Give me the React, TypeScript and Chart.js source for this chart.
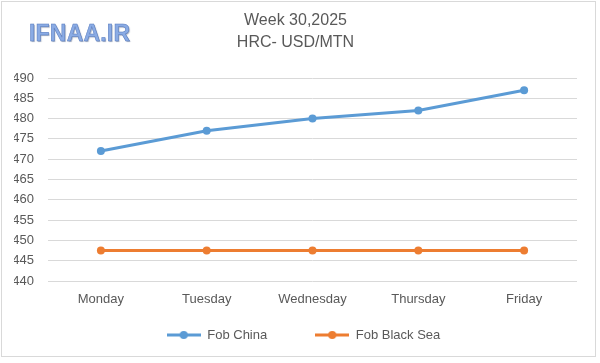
import React, { useEffect, useRef } from "react";
import { Chart, registerables } from "chart.js";

Chart.register(...registerables);

const categories = ["Monday", "Tuesday", "Wednesday", "Thursday", "Friday"];
const fobChina = [472, 477, 480, 482, 487];
const fobBlackSea = [447.5, 447.5, 447.5, 447.5, 447.5];
const titleLines = ["Week 30,2025", "HRC- USD/MTN"];
const seriesNames = ["Fob China", "Fob Black Sea"];
const seriesColors = ["#5b9bd5", "#ed7d31"];

const FONT = "'Liberation Sans', Arial, sans-serif";
const LEGEND_PAD = 48;
const LEGEND_FONT = 13;

function legendMarker(color: string): HTMLCanvasElement {
  const c = document.createElement("canvas");
  c.width = 34;
  c.height = 10;
  const ctx = c.getContext("2d")!;
  ctx.strokeStyle = color;
  ctx.lineWidth = 3;
  ctx.beginPath();
  ctx.moveTo(0, 5);
  ctx.lineTo(34, 5);
  ctx.stroke();
  ctx.fillStyle = color;
  ctx.beginPath();
  ctx.arc(17, 5, 4, 0, Math.PI * 2);
  ctx.fill();
  return c;
}

const legendPlacer = {
  id: "legendPlacer",
  afterLayout(chart: any) {
    const lg = chart.legend;
    if (!lg) return;
    const targetCenterY = 335;
    const newTop = targetCenterY - LEGEND_PAD - LEGEND_FONT / 2;
    const dy = newTop - lg.top;
    lg.top += dy;
    lg.bottom += dy;
    const dx = 8;
    lg.left += dx;
    lg.right += dx;
  },
};

export default function App() {
  const ref = useRef<HTMLCanvasElement | null>(null);

  useEffect(() => {
    document.body.style.margin = "0";
    const canvas = ref.current!;
    const markers = seriesColors.map(legendMarker);
    const chart = new Chart(canvas, {
      type: "line",
      data: {
        labels: categories,
        datasets: [
          {
            label: seriesNames[0],
            data: fobChina,
            borderColor: seriesColors[0],
            backgroundColor: seriesColors[0],
            borderWidth: 3,
            pointRadius: 4,
            pointBorderWidth: 0,
            pointHoverRadius: 4,
            tension: 0,
          },
          {
            label: seriesNames[1],
            data: fobBlackSea,
            borderColor: seriesColors[1],
            backgroundColor: seriesColors[1],
            borderWidth: 3,
            pointRadius: 4,
            pointBorderWidth: 0,
            pointHoverRadius: 4,
            tension: 0,
          },
        ],
      },
      plugins: [legendPlacer],
      options: {
        animation: false,
        responsive: false,
        maintainAspectRatio: false,
        layout: { padding: { left: 14, right: 23, top: 10, bottom: -26.6 } },
        plugins: {
          title: {
            display: true,
            text: titleLines,
            color: "#595959",
            font: { family: FONT, size: 16, weight: "normal", lineHeight: 1.375 },
            padding: { top: 0, bottom: 24 },
          },
          legend: {
            position: "bottom",
            labels: {
              color: "#595959",
              font: { family: FONT, size: LEGEND_FONT },
              usePointStyle: true,
              pointStyleWidth: 34,
              padding: LEGEND_PAD,
              generateLabels: (ch: any) =>
                ch.data.datasets.map((ds: any, i: number) => ({
                  text: ds.label,
                  fillStyle: seriesColors[i],
                  strokeStyle: seriesColors[i],
                  lineWidth: 0,
                  pointStyle: markers[i],
                  datasetIndex: i,
                  hidden: false,
                  fontColor: "#595959",
                })),
            },
          },
          tooltip: { enabled: false },
        },
        scales: {
          x: {
            offset: true,
            grid: { display: false, drawTicks: false },
            border: { display: false },
            ticks: {
              color: "#595959",
              font: { family: FONT, size: 13 },
              padding: 11,
              autoSkip: false,
              maxRotation: 0,
            },
          },
          y: {
            min: 440,
            max: 490,
            afterFit: (s: any) => {
              s.width = 34;
            },
            ticks: {
              stepSize: 5,
              autoSkip: false,
              color: "#595959",
              font: { family: FONT, size: 13 },
              padding: 14,
            },
            grid: { color: "#d9d9d9", drawTicks: false },
            border: { display: false },
          },
        },
      },
    });
    return () => chart.destroy();
  }, []);

  return (
    <div style={{ position: "relative", width: 600, height: 363, background: "#fff" }}>
      <canvas ref={ref} width={600} height={363} style={{ display: "block" }} />
      <div
        style={{
          position: "absolute",
          left: 1,
          top: 1,
          width: 595,
          height: 356,
          border: "1px solid #d9d9d9",
          boxSizing: "border-box",
          pointerEvents: "none",
        }}
      />
      <div
        style={{
          position: "absolute",
          left: 29,
          top: 20,
          fontFamily: FONT,
          fontWeight: "bold",
          fontSize: 23,
          color: "#8aabe4",
          WebkitTextStroke: "0.5px #5579bd",
          textShadow: "1px 1px 1px rgba(60,80,120,0.45)",
          lineHeight: "27px",
          letterSpacing: 0.2,
        }}
      >
        IFNAA.IR
      </div>
    </div>
  );
}
